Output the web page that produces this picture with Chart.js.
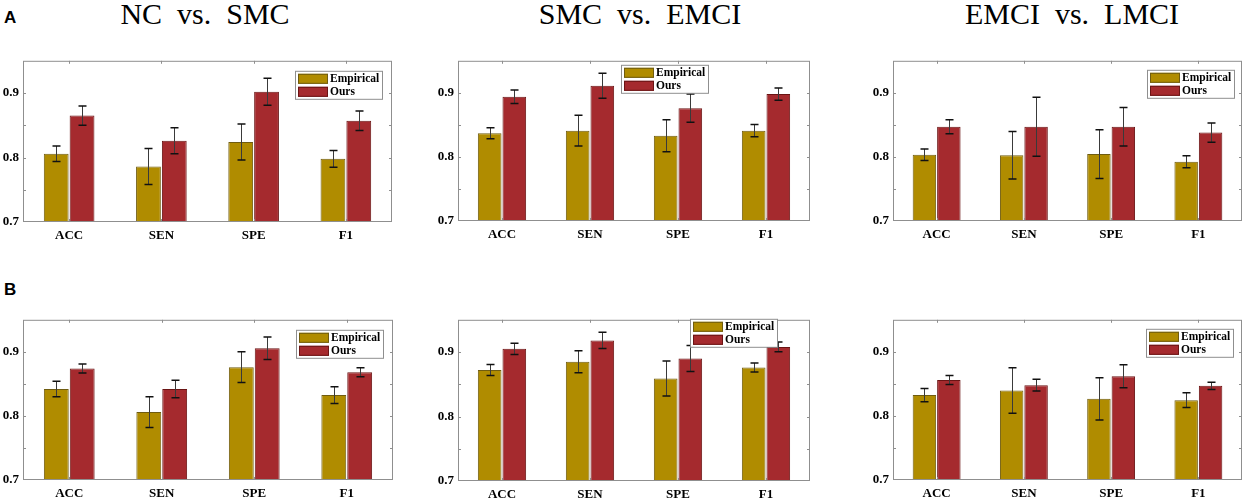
<!DOCTYPE html>
<html>
<head>
<meta charset="utf-8">
<script src="https://cdn.jsdelivr.net/npm/chart.js@4"></script>
<style>
    html, body { margin: 0; padding: 0; background: #fff; }
    body { width: 1248px; height: 503px; position: relative; overflow: hidden; }
    .panel { position: absolute; }
    .title {
        position: absolute; top: -1px; width: 400px; text-align: center;
        font: 30px/30px 'Liberation Serif', 'Times New Roman', serif;
        white-space: pre; color: #000;
    }
    .row-label {
        position: absolute; left: 4px;
        font: bold 17px/17px 'Liberation Sans', Arial, sans-serif; color: #000;
    }
</style>
</head>
<body>
<div class="row-label" style="top: 9px;">A</div>
<div class="row-label" style="top: 281px;">B</div>
<div class="title" style="left: 5px;">NC  vs.  SMC</div>
<div class="title" style="left: 440px;">SMC  vs.  EMCI</div>
<div class="title" style="left: 872px;">EMCI  vs.  LMCI</div>

<script>
// ── Data ─────────────────────────────────────────────────

const categories = ['ACC', 'SEN', 'SPE', 'F1'];
const seriesNames = ['Empirical', 'Ours'];
const yMin = 0.7;
const yMax = 0.95;
const yStep = 0.05;

// Row A
const empA1 = [0.806, 0.786, 0.824, 0.798];
const empA1Err = [0.012, 0.028, 0.028, 0.013];
const oursA1 = [0.865, 0.826, 0.902, 0.857];
const oursA1Err = [0.015, 0.020, 0.021, 0.015];

const empA2 = [0.837, 0.841, 0.833, 0.841];
const empA2Err = [0.0085, 0.024, 0.025, 0.0095];
const oursA2 = [0.894, 0.911, 0.876, 0.898];
const oursA2Err = [0.0105, 0.0195, 0.022, 0.0095];

const empA3 = [0.8035, 0.8025, 0.8045, 0.7925];
const empA3Err = [0.009, 0.037, 0.038, 0.0095];
const oursA3 = [0.847, 0.847, 0.847, 0.838];
const oursA3Err = [0.011, 0.046, 0.030, 0.015];

// Row B
const empB1 = [0.842, 0.806, 0.876, 0.8325];
const empB1Err = [0.012, 0.024, 0.024, 0.013];
const oursB1 = [0.874, 0.842, 0.9055, 0.868];
const oursB1Err = [0.007, 0.0135, 0.0175, 0.007];

const empB2 = [0.872, 0.885, 0.859, 0.876];
const empB2Err = [0.0085, 0.017, 0.027, 0.007];
const oursB2 = [0.905, 0.918, 0.890, 0.908];
const oursB2Err = [0.0087, 0.0127, 0.020, 0.0074];

const empB3 = [0.8325, 0.8395, 0.8266, 0.8246];
const empB3Err = [0.0104, 0.0355, 0.033, 0.0114];
const oursB3 = [0.856, 0.848, 0.862, 0.847];
const oursB3Err = [0.007, 0.0092, 0.018, 0.0057];

// ── Layout (plot frames in page pixels, legend insets) ────

const Y_AXIS_W = 22;
const X_AXIS_H = 24;
const PAD_TOP = 4;
const PAD_RIGHT = 4;

const panels = [
    { frame: [23, 53, 392, 222],  legend: { right: 10, top: 10 },  emp: empA1, empErr: empA1Err, ours: oursA1, oursErr: oursA1Err },
    { frame: [458, 53, 810, 221], legend: { right: 102, top: 4 },  emp: empA2, empErr: empA2Err, ours: oursA2, oursErr: oursA2Err },
    { frame: [893, 53, 1242, 221], legend: { right: 8, top: 9 },   emp: empA3, empErr: empA3Err, ours: oursA3, oursErr: oursA3Err },
    { frame: [23, 312, 393, 480], legend: { right: 10, top: 10 },  emp: empB1, empErr: empB1Err, ours: oursB1, oursErr: oursB1Err },
    { frame: [458, 312, 810, 481], legend: { right: 33, top: -1 }, emp: empB2, empErr: empB2Err, ours: oursB2, oursErr: oursB2Err },
    { frame: [893, 312, 1242, 480], legend: { right: 9, top: 9 },  emp: empB3, empErr: empB3Err, ours: oursB3, oursErr: oursB3Err }
];

const colors = {
    emp: '#b08c00',
    empBorder: '#6f5c10',
    ours: '#a52a2e',
    oursBorder: '#6a1414',
    frame: '#8f8f8f',
    errLine: '#3a3a3a',
    errCap: '#111111'
};

const tickFont = { family: "'Liberation Serif', 'Times New Roman', serif", size: 13, weight: 'bold' };

// ── Plugins ──────────────────────────────────────────────

const framePlugin = {
    id: 'matlabFrame',
    afterDatasetsDraw(chart) {
        const { ctx, chartArea: a, scales } = chart;
        ctx.save();
        ctx.strokeStyle = colors.frame;
        ctx.lineWidth = 1;
        ctx.strokeRect(a.left + 0.5, a.top + 0.5, a.right - a.left - 1, a.bottom - a.top - 1);

        // inward tick marks
        ctx.beginPath();
        scales.y.ticks.forEach(t => {
            if (t.value <= yMin + 1e-6 || t.value >= yMax - 1e-6) return;
            const y = Math.round(scales.y.getPixelForValue(t.value)) + 0.5;
            ctx.moveTo(a.left, y); ctx.lineTo(a.left + 3, y);
            ctx.moveTo(a.right, y); ctx.lineTo(a.right - 3, y);
        });
        categories.forEach((c, i) => {
            const x = Math.round(scales.x.getPixelForValue(i)) + 0.5;
            ctx.moveTo(x, a.top); ctx.lineTo(x, a.top + 3);
            ctx.moveTo(x, a.bottom); ctx.lineTo(x, a.bottom - 3);
        });
        ctx.stroke();
        ctx.restore();
    }
};

const errorBarPlugin = {
    id: 'errorBars',
    afterDatasetsDraw(chart) {
        const { ctx } = chart;
        const yScale = chart.scales.y;
        ctx.save();
        chart.data.datasets.forEach((ds, i) => {
            const meta = chart.getDatasetMeta(i);
            meta.data.forEach((bar, j) => {
                const v = ds.data[j];
                const e = ds.errors[j];
                const x = Math.round(bar.x) + 0.5;
                const yHi = yScale.getPixelForValue(v + e);
                const yLo = yScale.getPixelForValue(v - e);
                ctx.strokeStyle = colors.errLine;
                ctx.lineWidth = 1;
                ctx.beginPath();
                ctx.moveTo(x, yHi); ctx.lineTo(x, yLo);
                ctx.stroke();
                ctx.strokeStyle = colors.errCap;
                ctx.lineWidth = 1.5;
                ctx.beginPath();
                ctx.moveTo(x - 4, yHi); ctx.lineTo(x + 4, yHi);
                ctx.moveTo(x - 4, yLo); ctx.lineTo(x + 4, yLo);
                ctx.stroke();
            });
        });
        ctx.restore();
    }
};

const insetLegendPlugin = {
    id: 'insetLegend',
    afterDraw(chart, args, opts) {
        const { ctx, chartArea: a } = chart;
        ctx.save();
        ctx.font = "bold 11.5px 'Liberation Serif', 'Times New Roman', serif";
        const textW = Math.max(...chart.data.datasets.map(ds => ctx.measureText(ds.label).width));
        const boxW = Math.round(35 + textW + 3);
        const boxH = 28;
        const x0 = a.right - opts.right - boxW;
        const y0 = a.top + opts.top;

        ctx.fillStyle = '#fff';
        ctx.fillRect(x0, y0, boxW, boxH);
        ctx.strokeStyle = colors.frame;
        ctx.lineWidth = 1;
        ctx.strokeRect(x0 + 0.5, y0 + 0.5, boxW, boxH);

        chart.data.datasets.forEach((ds, i) => {
            const sy = y0 + 3 + i * 13;
            ctx.fillStyle = ds.backgroundColor;
            ctx.fillRect(x0 + 3, sy, 30, 10);
            ctx.strokeStyle = ds.borderColor;
            ctx.strokeRect(x0 + 3.5, sy + 0.5, 29, 9);
            ctx.fillStyle = '#000';
            ctx.textBaseline = 'middle';
            ctx.fillText(ds.label, x0 + 35, sy + 5.5);
        });
        ctx.restore();
    }
};

// ── Chart Setup ──────────────────────────────────────────

function buildPanel(p) {
    const [l, t, r, b] = p.frame;
    const box = document.createElement('div');
    box.className = 'panel';
    box.style.left = (l - Y_AXIS_W) + 'px';
    box.style.top = (t - PAD_TOP) + 'px';
    box.style.width = (r - l + Y_AXIS_W + PAD_RIGHT) + 'px';
    box.style.height = (b - t + PAD_TOP + X_AXIS_H) + 'px';
    const canvas = document.createElement('canvas');
    box.appendChild(canvas);
    document.body.appendChild(box);

    new Chart(canvas.getContext('2d'), {
        type: 'bar',
        data: {
            labels: categories,
            datasets: [
                {
                    label: seriesNames[0],
                    data: p.emp,
                    errors: p.empErr,
                    backgroundColor: colors.emp,
                    borderColor: colors.empBorder,
                    borderWidth: 1,
                    borderSkipped: 'bottom',
                    categoryPercentage: 0.56,
                    barPercentage: 0.96
                },
                {
                    label: seriesNames[1],
                    data: p.ours,
                    errors: p.oursErr,
                    backgroundColor: colors.ours,
                    borderColor: colors.oursBorder,
                    borderWidth: 1,
                    borderSkipped: 'bottom',
                    categoryPercentage: 0.56,
                    barPercentage: 0.96
                }
            ]
        },
        options: {
            responsive: true,
            maintainAspectRatio: false,
            animation: false,
            layout: { padding: { top: PAD_TOP, right: PAD_RIGHT, left: 0, bottom: 0 } },
            plugins: {
                legend: { display: false },
                tooltip: { enabled: false },
                insetLegend: p.legend
            },
            scales: {
                x: {
                    grid: { display: false, drawTicks: false },
                    border: { display: false },
                    ticks: { color: '#000', font: tickFont, padding: 6 },
                    afterFit: s => { s.height = X_AXIS_H; }
                },
                y: {
                    min: yMin,
                    max: yMax,
                    grid: { display: false, drawTicks: false },
                    border: { display: false },
                    ticks: {
                        stepSize: yStep,
                        color: '#000',
                        font: tickFont,
                        padding: 4,
                        callback: v => {
                            const k = Math.round(v * 100);
                            return (k % 10 === 0 && k < 95) ? (k / 100).toFixed(1) : '';
                        }
                    },
                    afterFit: s => { s.width = Y_AXIS_W; }
                }
            }
        },
        plugins: [framePlugin, errorBarPlugin, insetLegendPlugin]
    });
}

document.addEventListener('DOMContentLoaded', () => {
    panels.forEach(buildPanel);
});
</script>
</body>
</html>
